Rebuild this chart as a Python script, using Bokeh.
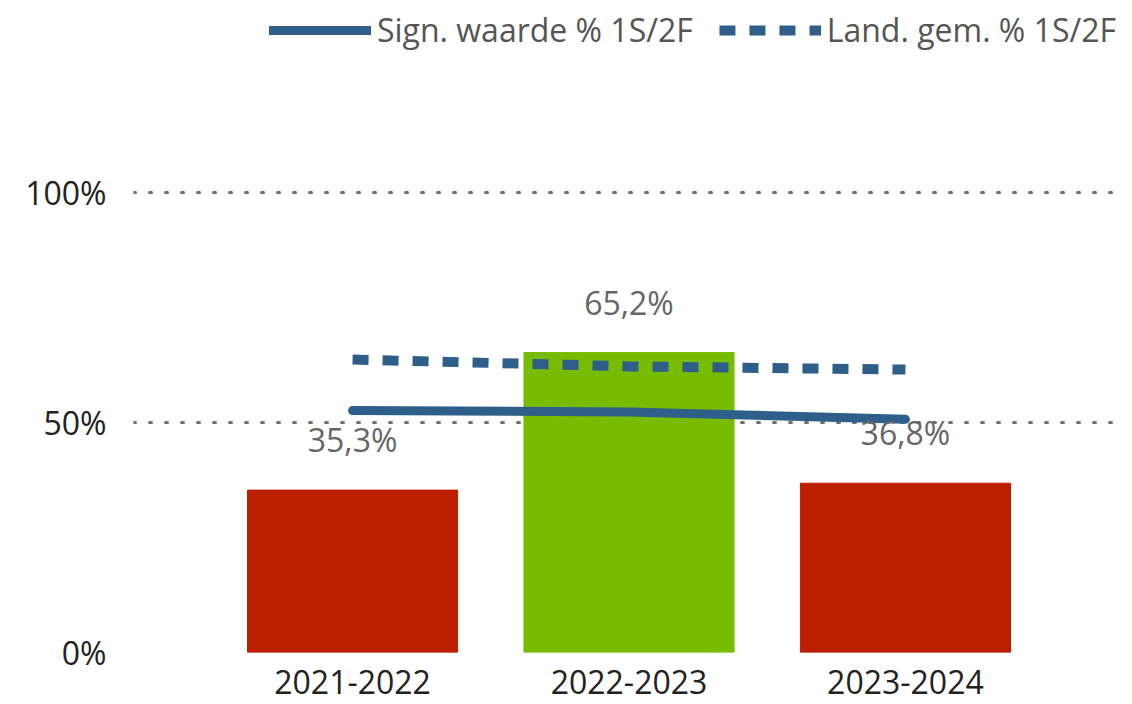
from bokeh.plotting import figure
from bokeh.models import ColumnDataSource, FactorRange, Range1d, FixedTicker, Legend, LegendItem
from bokeh.embed import file_html
from bokeh.resources import INLINE
from bokeh.core.properties import value

years = ["2021-2022", "2022-2023", "2023-2024"]
pct_values = [0.353, 0.652, 0.368]
bar_colors = ["#BC1E00", "#77BC00", "#BC1E00"]
sign_waarde = [0.526, 0.523, 0.507]
land_gem = [0.637, 0.622, 0.615]
y_ticks = [0, 0.5, 1.0]
y_tick_labels = {0: "0%", 0.5: "50%", 1.0: "100%"}

FONT = "Open Sans"

src = ColumnDataSource(dict(
    x=years, top=pct_values, color=bar_colors,
    label=[f"{v*100:.1f}%".replace(".", ",") for v in pct_values],
))
lsrc = ColumnDataSource(dict(x=years, sign=sign_waarde, land=land_gem))

p = figure(
    width=1132, height=704,
    x_range=FactorRange(factors=years, range_padding=0.195, range_padding_units="percent"),
    y_range=Range1d(0, 652 / 460),
    output_backend="svg", toolbar_location=None,
    min_border_left=133, min_border_right=8, min_border_top=0, min_border_bottom=52,
)
p.outline_line_color = None
p.background_fill_color = "white"
p.border_fill_color = "white"

p.vbar(x="x", top="top", width=0.76, color="color", source=src)

r_sign = p.line(x="x", y="sign", source=lsrc, line_color="#2E5F8A", line_width=9, line_cap="round")
r_land = p.line(x="x", y="land", source=lsrc, line_color="#2E5F8A", line_width=10, line_dash="16 14")

p.text(x="x", y="top", text="label", source=src, text_align="center", text_baseline="bottom",
       y_offset=-29, text_font=value(FONT), text_font_size="32px", text_color="#666666")

# axes
p.xaxis.axis_line_color = None
p.xaxis.major_tick_line_color = None
p.xaxis.minor_tick_line_color = None
p.xaxis.major_label_text_font = FONT
p.xaxis.major_label_text_font_size = "32px"
p.xaxis.major_label_text_color = "#222222"
p.xaxis.major_label_standoff = 11

p.yaxis.ticker = FixedTicker(ticks=y_ticks)
p.yaxis.major_label_overrides = y_tick_labels
p.yaxis.axis_line_color = None
p.yaxis.major_tick_line_color = None
p.yaxis.minor_tick_line_color = None
p.yaxis.major_label_text_font = FONT
p.yaxis.major_label_text_font_size = "32px"
p.yaxis.major_label_text_color = "#222222"
p.yaxis.major_label_standoff = 21

p.xgrid.grid_line_color = None
p.ygrid.ticker = FixedTicker(ticks=y_ticks)
p.ygrid.grid_line_color = "#6f6f6f"
p.ygrid.grid_line_width = 3
p.ygrid.grid_line_dash = "2 14"
p.ygrid.grid_line_cap = "round"

legend = Legend(items=[
    LegendItem(label="Sign. waarde % 1S/2F", renderers=[r_sign]),
    LegendItem(label="Land. gem. % 1S/2F", renderers=[r_land]),
], orientation="horizontal", location="top_right")
legend.label_text_font = FONT
legend.label_text_font_size = "32px"
legend.label_text_color = "#555555"
legend.glyph_width = 102
legend.glyph_height = 30
legend.label_standoff = 6
legend.spacing = 26
legend.padding = 0
legend.margin = 8
legend.border_line_color = None
legend.background_fill_alpha = 0
p.add_layout(legend)

open("out.html", "w").write(file_html(p, INLINE))
